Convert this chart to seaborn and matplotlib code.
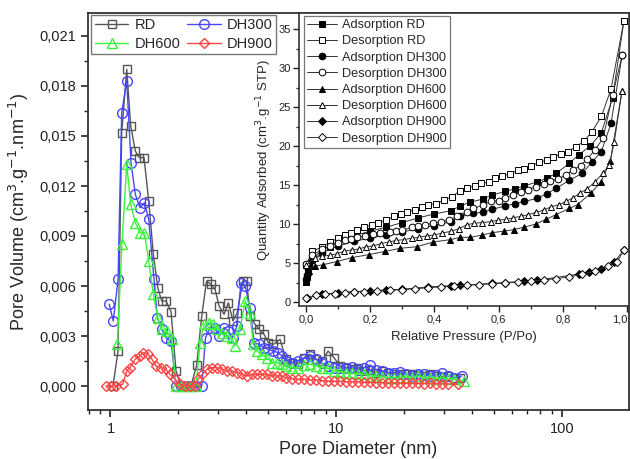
import numpy as np
import pandas as pd
import seaborn as sns
import matplotlib
matplotlib.use("Agg")
import matplotlib.pyplot as plt
from matplotlib.ticker import MultipleLocator, FuncFormatter, LogLocator, NullFormatter, FixedLocator

# ---------------- pore size distribution (main panel) ----------------
tail_d = [5.99, 6.37, 6.77, 7.20, 7.66, 8.14, 8.65, 9.20, 9.78, 10.40, 11.05, 11.75,
          12.49, 13.28, 14.12, 15.01, 15.96, 16.97, 18.04, 19.18, 20.39, 21.68, 23.05,
          24.51, 26.05, 27.70, 29.45, 31.31, 33.28]

rd_d = [1.026, 1.080, 1.121, 1.180, 1.229, 1.288, 1.342, 1.408, 1.477, 1.548, 1.619,
        1.686, 1.762, 1.854, 1.951, 2.053, 2.161, 2.273, 2.410, 2.536, 2.663, 2.788,
        2.905, 3.026, 3.184, 3.327, 3.489, 3.646, 3.852, 4.013, 4.150, 4.367, 4.549,
        4.787, 5.002, 5.263, 5.636] + tail_d + [35.4]
rd_v = [0.0, 0.0021, 0.0152, 0.0190, 0.0156, 0.0141, 0.0137, 0.0137, 0.0111, 0.0079,
        0.0059, 0.0051, 0.0051, 0.00446, 0.0009, 0.0, 0.0, 0.0, 0.00128, 0.0042, 0.0063,
        0.0061, 0.0058, 0.0048, 0.0043, 0.0050, 0.0039, 0.0044, 0.0063, 0.0063, 0.0042,
        0.0037, 0.0034, 0.0031, 0.0026, 0.0025, 0.0028,
        0.0016, 0.0014, 0.0013, 0.0017, 0.0019, 0.0016, 0.0015, 0.0021, 0.0017, 0.0012,
        0.0011, 0.0010, 0.0011, 0.0009, 0.00095, 0.0008, 0.0009, 0.0008, 0.0007, 0.00075,
        0.0007, 0.0007, 0.00065, 0.0006, 0.0007, 0.0006, 0.00055, 0.0006, 0.0005, 0.0005]

dh300_d = [0.988, 1.029, 1.080, 1.121, 1.180, 1.233, 1.288, 1.351, 1.412, 1.477, 1.559,
           1.612, 1.686, 1.762, 1.854, 1.951, 2.053, 2.161, 2.273, 2.393, 2.536, 2.636,
           2.760, 2.905, 3.035, 3.184, 3.327, 3.479, 3.624, 3.786, 3.944, 4.150, 4.323,
           4.549, 4.787, 4.986, 5.247, 5.522, 5.753] + tail_d + [35.9]
dh300_v = [0.0049, 0.0039, 0.0064, 0.0164, 0.0183, 0.0134, 0.0115, 0.0107, 0.0110, 0.0100,
           0.0064, 0.0041, 0.0034, 0.0029, 0.0027, 0.0, 0.0, 0.0, 0.0, 0.0, 0.0, 0.0029,
           0.0035, 0.0035, 0.0030, 0.0035, 0.0033, 0.0029, 0.0036, 0.0062, 0.0060, 0.0047,
           0.0026, 0.0025, 0.0023, 0.0022, 0.0021, 0.0020, 0.0018,
           0.0015, 0.0014, 0.0015, 0.00165, 0.0018, 0.0016, 0.00136, 0.0012, 0.0011, 0.00106,
           0.00106, 0.00116, 0.00096, 0.0011, 0.00126, 0.00096, 0.0009, 0.0008, 0.0008,
           0.00085, 0.0007, 0.0006, 0.0007, 0.0007, 0.0006, 0.00065, 0.0008, 0.0006, 0.0005,
           0.0006]

dh600_d = [1.072, 1.124, 1.180, 1.229, 1.288, 1.351, 1.412, 1.477, 1.548, 1.619, 1.686,
           1.775, 1.867, 1.951, 2.053, 2.161, 2.273, 2.393, 2.493, 2.596, 2.741, 2.855,
           2.974, 3.110, 3.273, 3.444, 3.561, 3.748, 3.944, 4.150, 4.292, 4.444, 4.676,
           4.921, 5.178, 5.449, 5.724] + tail_d + [36.8]
dh600_v = [0.0025, 0.0085, 0.0133, 0.0109, 0.0098, 0.0092, 0.0092, 0.0075, 0.0055, 0.0041,
           0.0034, 0.0033, 0.0028, 0.0, 0.0, 0.0, 0.0, 0.0, 0.0026, 0.0037, 0.0038, 0.0037,
           0.0034, 0.0032, 0.0030, 0.0029, 0.0024, 0.0034, 0.0051, 0.0044, 0.0025, 0.0021,
           0.0019, 0.0017, 0.0014, 0.0014, 0.0013,
           0.0012, 0.0011, 0.00106, 0.00126, 0.0013, 0.0012, 0.0011, 0.00106, 0.0009,
           0.00086, 0.0008, 0.00076, 0.0007, 0.0007, 0.0006, 0.0006, 0.00055, 0.0005, 0.0005,
           0.0005, 0.00055, 0.0005, 0.0006, 0.0005, 0.0005, 0.00045, 0.0005, 0.0004, 0.0004,
           0.0003]

dh900_d = [0.955, 1.005, 1.057, 1.132, 1.180, 1.220, 1.284, 1.351, 1.393, 1.466, 1.527,
           1.591, 1.674, 1.762, 1.835, 1.931, 2.032, 2.139, 2.250, 2.369, 2.442, 2.544,
           2.677, 2.817, 2.965, 3.120, 3.283, 3.454, 3.635, 3.825, 4.025, 4.236, 4.457,
           4.691, 4.936, 5.194, 5.466, 5.753] + tail_d[:-1] + [34.5]
dh900_v = [0.0, 0.0, 0.0, 0.0001, 0.0009, 0.0011, 0.0016, 0.0018, 0.0020, 0.0019, 0.0016,
           0.0012, 0.0011, 0.0010, 0.0007, 0.0004, 0.0001, 0.0, 0.0, 0.0, 0.0004, 0.0007,
           0.0010, 0.0011, 0.0011, 0.0010, 0.0009, 0.0009, 0.0008, 0.0007, 0.0006, 0.0007,
           0.0007, 0.0007, 0.0007, 0.0006, 0.0006, 0.0006,
           0.0005, 0.00045, 0.0004, 0.00042, 0.00035, 0.00038, 0.00032, 0.0003, 0.00028,
           0.0003, 0.00026, 0.00025, 0.00026, 0.00022, 0.00022, 0.0002, 0.0002, 0.00018,
           0.0002, 0.00018, 0.00016, 0.00018, 0.00016, 0.00015, 0.00016, 0.00014, 0.00015,
           0.00013, 0.0001]

# ---------------- N2 isotherms (inset) ----------------
ads_rd_p = [0.001, 0.003, 0.006, 0.01, 0.02, 0.05, 0.075, 0.1, 0.15, 0.2, 0.25, 0.3, 0.35,
            0.4, 0.45, 0.48, 0.51, 0.55, 0.58, 0.62, 0.65, 0.68, 0.72, 0.75, 0.78, 0.82,
            0.85, 0.885, 0.92, 0.955, 0.99]
ads_rd_q = [2.6, 3.2, 3.9, 4.6, 5.5, 6.7, 7.1, 7.9, 8.5, 9.1, 9.6, 10.2, 10.8, 11.3, 11.7,
            12.3, 12.8, 13.2, 13.7, 14.2, 14.5, 14.9, 15.4, 15.9, 16.5, 17.8, 18.9, 20.0,
            21.7, 26.2, 36.0]
des_rd_p = [0.0, 0.02, 0.05, 0.075, 0.1, 0.12, 0.14, 0.16, 0.18, 0.205, 0.225, 0.25, 0.275,
            0.295, 0.315, 0.34, 0.36, 0.38, 0.405, 0.43, 0.455, 0.48, 0.5, 0.525, 0.545,
            0.57, 0.59, 0.61, 0.635, 0.66, 0.68, 0.7, 0.725, 0.75, 0.77, 0.795, 0.815, 0.84,
            0.865, 0.89, 0.92, 0.95, 0.99]
des_rd_q = [4.8, 6.5, 7.1, 7.7, 8.2, 8.6, 8.9, 9.3, 9.6, 9.9, 10.2, 10.5, 11.0, 11.3, 11.6,
            11.8, 12.2, 12.5, 12.6, 13.1, 13.5, 14.3, 14.6, 14.9, 15.2, 15.4, 15.9, 16.2,
            16.4, 16.9, 17.1, 17.4, 17.9, 18.2, 18.6, 19.0, 19.3, 19.9, 20.6, 21.8, 23.8,
            27.3, 36.0]
ads_300_p = [0.001, 0.003, 0.006, 0.01, 0.02, 0.05, 0.1, 0.15, 0.2, 0.25, 0.3, 0.35, 0.4,
             0.45, 0.48, 0.52, 0.55, 0.58, 0.62, 0.65, 0.68, 0.72, 0.75, 0.78, 0.82, 0.86,
             0.89, 0.92, 0.95, 0.985]
ads_300_q = [2.9, 3.5, 4.2, 4.8, 5.4, 6.3, 7.2, 7.8, 8.2, 8.6, 9.0, 9.4, 9.8, 10.3, 11.0,
             11.4, 11.5, 11.9, 12.3, 12.6, 12.9, 13.3, 13.9, 14.6, 15.6, 16.5, 17.9, 19.3,
             22.9, 31.7]
des_300_p = [0.0, 0.02, 0.05, 0.075, 0.1, 0.12, 0.14, 0.16, 0.185, 0.21, 0.23, 0.26, 0.28,
             0.3, 0.33, 0.35, 0.37, 0.395, 0.42, 0.445, 0.47, 0.5, 0.52, 0.55, 0.575, 0.6,
             0.62, 0.645, 0.67, 0.69, 0.715, 0.74, 0.76, 0.785, 0.81, 0.83, 0.855, 0.875,
             0.9, 0.925, 0.955, 0.985]
des_300_q = [4.9, 6.0, 6.8, 7.2, 7.6, 7.9, 8.1, 8.3, 8.5, 8.7, 8.85, 9.0, 9.1, 9.2, 9.6, 9.7,
             9.9, 10.1, 10.3, 10.5, 11.0, 11.6, 12.0, 12.4, 12.9, 13.0, 13.4, 13.7, 14.1,
             14.4, 14.8, 15.1, 15.5, 15.8, 16.3, 16.9, 17.5, 18.3, 19.5, 21.0, 26.5, 31.7]
ads_600_p = [0.001, 0.003, 0.008, 0.028, 0.054, 0.096, 0.143, 0.197, 0.247, 0.294, 0.346,
             0.396, 0.448, 0.481, 0.512, 0.549, 0.58, 0.617, 0.648, 0.679, 0.716, 0.747,
             0.778, 0.82, 0.846, 0.888, 0.919, 0.948, 0.984]
ads_600_q = [2.8, 3.4, 4.0, 4.6, 4.8, 5.2, 5.7, 6.1, 6.5, 6.9, 7.1, 7.7, 8.0, 8.3, 8.3, 8.6,
             8.9, 9.1, 9.3, 9.6, 10.0, 10.6, 11.2, 12.0, 12.5, 14.0, 15.4, 18.1, 27.0]
des_600_p = [0.0, 0.028, 0.05, 0.075, 0.096, 0.117, 0.143, 0.164, 0.188, 0.21, 0.233, 0.257,
             0.281, 0.304, 0.33, 0.351, 0.377, 0.4, 0.424, 0.45, 0.476, 0.5, 0.523, 0.549,
             0.575, 0.598, 0.622, 0.646, 0.669, 0.692, 0.716, 0.74, 0.763, 0.789, 0.81,
             0.833, 0.854, 0.875, 0.9, 0.924, 0.945, 0.96, 0.984]
des_600_q = [4.7, 5.7, 5.9, 6.0, 6.2, 6.5, 6.7, 6.8, 7.1, 7.2, 7.5, 7.7, 7.9, 8.0, 8.2, 8.3,
             8.5, 8.6, 8.85, 9.06, 9.4, 9.9, 10.1, 10.2, 10.3, 10.5, 10.6, 10.8, 11.0, 11.2,
             11.5, 11.8, 12.2, 12.5, 12.9, 13.4, 14.0, 14.5, 15.4, 16.5, 17.6, 20.5, 27.0]
ads_900_p = [0.002, 0.05, 0.1, 0.15, 0.2, 0.25, 0.3, 0.38, 0.45, 0.48, 0.58, 0.62, 0.68,
             0.72, 0.85, 0.88, 0.92, 0.96, 0.99]
ads_900_q = [0.5, 1.0, 1.2, 1.35, 1.45, 1.55, 1.65, 1.95, 2.1, 2.15, 2.4, 2.5, 2.7, 2.8, 3.6,
             3.8, 4.3, 5.1, 6.7]
des_900_p = [0.0, 0.03, 0.06, 0.09, 0.12, 0.15, 0.18, 0.22, 0.26, 0.3, 0.34, 0.38, 0.42,
             0.46, 0.5, 0.54, 0.58, 0.62, 0.66, 0.7, 0.74, 0.78, 0.82, 0.86, 0.9, 0.94, 0.97,
             0.99]
des_900_q = [0.5, 0.85, 1.0, 1.1, 1.2, 1.3, 1.35, 1.45, 1.5, 1.6, 1.7, 1.85, 1.95, 2.05,
             2.15, 2.25, 2.35, 2.45, 2.55, 2.7, 2.85, 3.0, 3.25, 3.55, 3.95, 4.6, 5.2, 6.7]

pressure_ticks = [0.0, 0.2, 0.4, 0.6, 0.8, 1.0]
pressure_tick_labels = ["0,0", "0,2", "0,4", "0,6", "0,8", "1,0"]

sns.set_theme(style="ticks")
plt.rcParams["font.family"] = ["Liberation Sans", "DejaVu Sans"]
plt.rcParams["axes.linewidth"] = 1.3

fig = plt.figure(figsize=(6.3, 4.59), dpi=100)
W, H = 630, 459
ax = fig.add_axes([88 / W, 1 - 410 / H, (629 - 88) / W, (410 - 13) / H])

psd_series = [
    ("RD", rd_d, rd_v, "s", "#555555", 6.0),
    ("DH300", dh300_d, dh300_v, "o", "#4646ff", 7.0),
    ("DH600", dh600_d, dh600_v, "^", "#3df23d", 7.5),
    ("DH900", dh900_d, dh900_v, "D", "#ff4444", 5.6),
]
for name, d, v, mk, col, ms in psd_series:
    df = pd.DataFrame({"d": d, "v": v})
    sns.lineplot(data=df, x="d", y="v", ax=ax, sort=False, estimator=None,
                 color=col, lw=1.0, marker=mk, markersize=ms, mfc="none",
                 mec=col, mew=1.0, label=name)

ax.set_xscale("log")
ax.set_xlim(0.795, 198)
ax.set_ylim(-0.00144, 0.02238)
ax.yaxis.set_major_locator(MultipleLocator(0.003))
ax.yaxis.set_minor_locator(MultipleLocator(0.0015))
ax.yaxis.set_major_formatter(FuncFormatter(lambda v, _: f"{abs(v) if abs(v) < 1e-9 else v:.3f}".replace(".", ",")))
ax.xaxis.set_major_locator(FixedLocator([1, 10, 100]))
ax.xaxis.set_major_formatter(FuncFormatter(lambda v, _: f"{v:g}"))
ax.xaxis.set_minor_locator(LogLocator(base=10, subs=np.arange(2, 10)))
ax.xaxis.set_minor_formatter(NullFormatter())
ax.tick_params(which="major", direction="out", length=5, width=1.2, colors="#222222",
               labelsize=10.5, top=False, right=False)
ax.tick_params(which="minor", direction="out", length=3, width=1.0, colors="#222222",
               top=False, right=False)
for s in ax.spines.values():
    s.set_color("#333333")
    s.set_linewidth(1.3)
ax.set_xlabel("Pore Diameter (nm)", fontsize=13, labelpad=4)
ax.set_ylabel("Pore Volume (cm$^3$.g$^{-1}$.nm$^{-1}$)", fontsize=13, labelpad=6)

h, l = ax.get_legend_handles_labels()
order = [0, 2, 1, 3]
leg = ax.legend([h[i] for i in order], [l[i] for i in order], ncol=2, loc="upper left",
                bbox_to_anchor=(0.006, 0.996), borderaxespad=0, fontsize=10.5,
                frameon=True, fancybox=False, edgecolor="#555555", handlelength=2.3,
                handletextpad=0.4, columnspacing=0.5, labelspacing=0.3, borderpad=0.25)
leg.get_frame().set_linewidth(1.0)

# ---------------- inset ----------------
ins = fig.add_axes([299 / W, 1 - 306 / H, (629 - 299) / W, (306 - 13) / H])
iso_series = [
    ("Adsorption RD", ads_rd_p, ads_rd_q, "s", "black", 4.2),
    ("Desorption RD", des_rd_p, des_rd_q, "s", "white", 4.2),
    ("Adsorption DH300", ads_300_p, ads_300_q, "o", "black", 4.8),
    ("Desorption DH300", des_300_p, des_300_q, "o", "white", 4.8),
    ("Adsorption DH600", ads_600_p, ads_600_q, "^", "black", 5.0),
    ("Desorption DH600", des_600_p, des_600_q, "^", "white", 5.0),
    ("Adsorption DH900", ads_900_p, ads_900_q, "D", "black", 4.0),
    ("Desorption DH900", des_900_p, des_900_q, "D", "white", 4.0),
]
for name, p, q, mk, face, ms in iso_series:
    df = pd.DataFrame({"p": p, "q": q})
    sns.lineplot(data=df, x="p", y="q", ax=ins, sort=False, estimator=None,
                 color="#333333", lw=0.7, marker=mk, markersize=ms, mfc=face,
                 mec="black", mew=0.7, label=name)

ins.set_xlim(-0.022, 1.006)
ins.set_ylim(-0.5, 37.05)
ins.set_xticks(pressure_ticks)
ins.set_xticklabels(pressure_tick_labels)
ins.xaxis.set_minor_locator(MultipleLocator(0.1))
ins.yaxis.set_major_locator(MultipleLocator(5))
ins.yaxis.set_minor_locator(MultipleLocator(2.5))
ins.yaxis.set_major_formatter(FuncFormatter(lambda v, _: f"{v:.0f}"))
ins.tick_params(which="major", direction="out", length=4, width=1.0, colors="#222222",
                labelsize=8, top=False, right=False, pad=2)
ins.tick_params(which="minor", direction="out", length=2.5, width=0.9, colors="#222222",
                top=False, right=False)
# the last pressure label sits against the figure edge: anchor it by its right side
ins.get_xticklabels()[-1].set_horizontalalignment("right")
for s in ins.spines.values():
    s.set_color("#333333")
    s.set_linewidth(1.2)
ins.set_xlabel("Relative Pressure (P/Po)", fontsize=9.5, labelpad=5)
ins.set_ylabel("Quantity Adsorbed (cm$^3$.g$^{-1}$ STP)", fontsize=9.5, labelpad=3)
ileg = ins.legend(loc="upper left", bbox_to_anchor=(0.015, 0.99), borderaxespad=0,
                  fontsize=9.2, frameon=True, fancybox=False, edgecolor="#555555",
                  handlelength=2.3, handletextpad=0.4, labelspacing=0.33, borderpad=0.25)
ileg.get_frame().set_linewidth(0.9)

fig.savefig("out.png", dpi=100)
